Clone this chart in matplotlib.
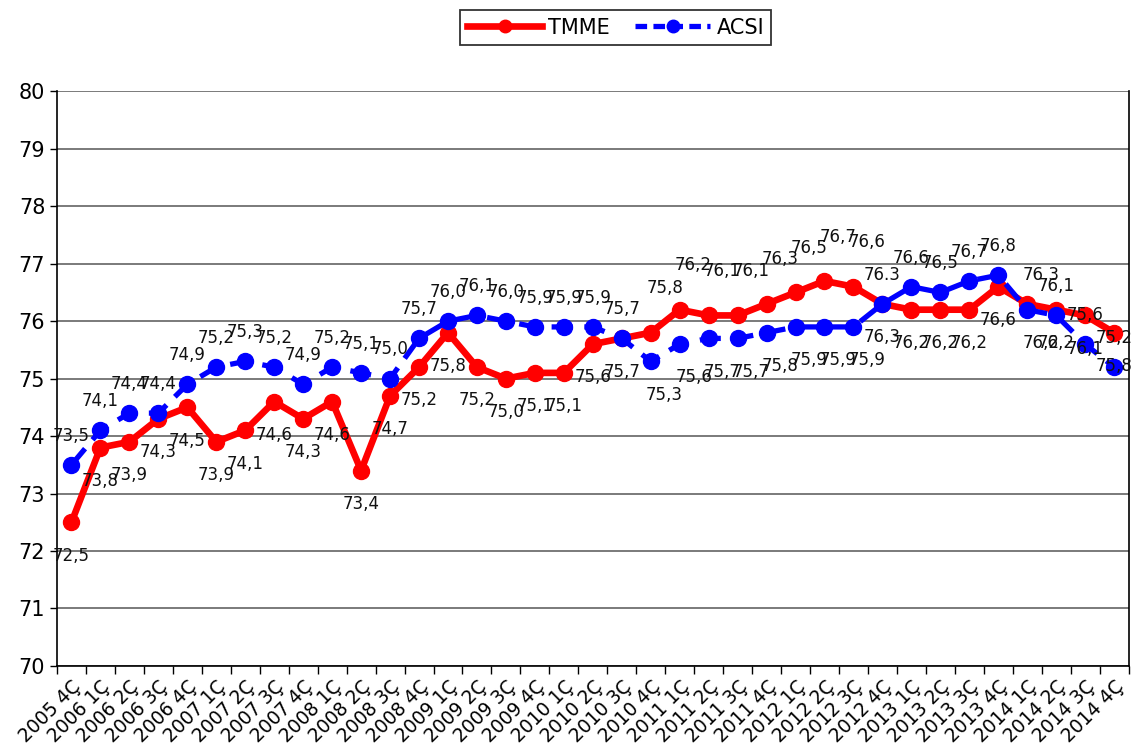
import matplotlib
matplotlib.use("Agg")
import matplotlib.pyplot as plt
from matplotlib.lines import Line2D

QUARTERS = [
    "2005 4Ç",
    "2006 1Ç", "2006 2Ç", "2006 3Ç", "2006 4Ç",
    "2007 1Ç", "2007 2Ç", "2007 3Ç", "2007 4Ç",
    "2008 1Ç", "2008 2Ç", "2008 3Ç", "2008 4Ç",
    "2009 1Ç", "2009 2Ç", "2009 3Ç", "2009 4Ç",
    "2010 1Ç", "2010 2Ç", "2010 3Ç", "2010 4Ç",
    "2011 1Ç", "2011 2Ç", "2011 3Ç", "2011 4Ç",
    "2012 1Ç", "2012 2Ç", "2012 3Ç", "2012 4Ç",
    "2013 1Ç", "2013 2Ç", "2013 3Ç", "2013 4Ç",
    "2014 1Ç", "2014 2Ç", "2014 3Ç", "2014 4Ç",
]

TMME = [
    72.5,
    73.8, 73.9, 74.3, 74.5,
    73.9, 74.1, 74.6, 74.3,
    74.6, 73.4, 74.7, 75.2,
    75.8, 75.2, 75.0, 75.1,
    75.1, 75.6, 75.7, 75.8,
    76.2, 76.1, 76.1, 76.3,
    76.5, 76.7, 76.6, 76.3,
    76.2, 76.2, 76.2, 76.6,
    76.3, 76.2, 76.1, 75.8,
]

ACSI = [
    73.5,
    74.1, 74.4, 74.4, 74.9,
    75.2, 75.3, 75.2, 74.9,
    75.2, 75.1, 75.0, 75.7,
    76.0, 76.1, 76.0, 75.9,
    75.9, 75.9, 75.7, 75.3,
    75.6, 75.7, 75.7, 75.8,
    75.9, 75.9, 75.9, 76.3,
    76.6, 76.5, 76.7, 76.8,
    76.2, 76.1, 75.6, 75.2,
]

# one label in the source uses a dot instead of a comma
ACSI_TEXT_OVERRIDE = {28: "76.3"}

# label placement: a = above, A = well above, b = below
TMME_SIDE = "b" * 20 + "A" * 8 + "b" * 5 + "a" + "b" * 3
ACSI_SIDE = "a" * 20 + "b" * 8 + "a" * 5 + "b" + "a" * 3
SHIFTED = set(range(20, 28)) | {33}

plt.rcParams["font.family"] = "DejaVu Sans"

fig = plt.figure(figsize=(11.4, 7.55), dpi=100)
ax = fig.add_axes([0.050, 0.118, 0.940, 0.761])

x = list(range(len(QUARTERS)))

ax.plot(x, TMME, color="#FF0000", linewidth=4.8, marker="o", markersize=11.5,
        solid_capstyle="round", zorder=3, label="TMME")
ax.plot(x, ACSI, color="#0000FF", linewidth=3.8, linestyle=(0, (4, 2.2)),
        marker="o", markersize=11.5, zorder=4, label="ACSI")


def fmt(v):
    return f"{v:.1f}".replace(".", ",")


def place_labels(values, sides, overrides=None):
    overrides = overrides or {}
    for i, (v, s) in enumerate(zip(values, sides)):
        dy = {"a": 21, "A": 32, "b": -24}[s]
        dx = 10 if i in SHIFTED else 0
        txt = overrides.get(i, fmt(v))
        ax.annotate(txt, (i, v), xytext=(dx, dy), textcoords="offset points",
                    ha="center", va="center", fontsize=12, color="#111111",
                    zorder=5)


place_labels(TMME, TMME_SIDE)
place_labels(ACSI, ACSI_SIDE, ACSI_TEXT_OVERRIDE)

ax.set_xlim(-0.5, len(QUARTERS) - 0.5)
ax.set_ylim(70, 80)
ax.set_yticks(range(70, 81))
ax.tick_params(axis="y", labelsize=15, length=5, width=1, direction="out")
ax.yaxis.grid(True, color="#707070", linewidth=1.3)
ax.set_axisbelow(True)

# ticks between categories, labels at category centres
ax.set_xticks([i - 0.5 for i in range(len(QUARTERS) + 1)])
ax.set_xticklabels([])
ax.tick_params(axis="x", which="major", length=6, width=1, direction="out")
ax.set_xticks(x, minor=True)
ax.set_xticklabels(QUARTERS, minor=True, rotation=45, ha="right",
                   rotation_mode="anchor", fontsize=13.5)
ax.tick_params(axis="x", which="minor", length=0, pad=8)

for side in ["left", "bottom", "right"]:
    ax.spines[side].set_color("black")
    ax.spines[side].set_linewidth(1.2)
ax.spines["top"].set_visible(False)

handles = [
    Line2D([0], [0], color="#FF0000", linewidth=4.8, marker="o", markersize=9),
    Line2D([0], [0], color="#0000FF", linewidth=3.8, linestyle=(0, (2.2, 1.2)),
           marker="o", markersize=9),
]
leg = fig.legend(handles, ["TMME", "ACSI"], loc="upper center",
                 bbox_to_anchor=(0.540, 1.0), ncol=2, fontsize=15,
                 frameon=True, fancybox=False, edgecolor="black",
                 handlelength=3.6, columnspacing=1.2, borderpad=0.35,
                 handletextpad=0.3)
leg.get_frame().set_linewidth(1.3)

fig.savefig("out.png", dpi=100)
